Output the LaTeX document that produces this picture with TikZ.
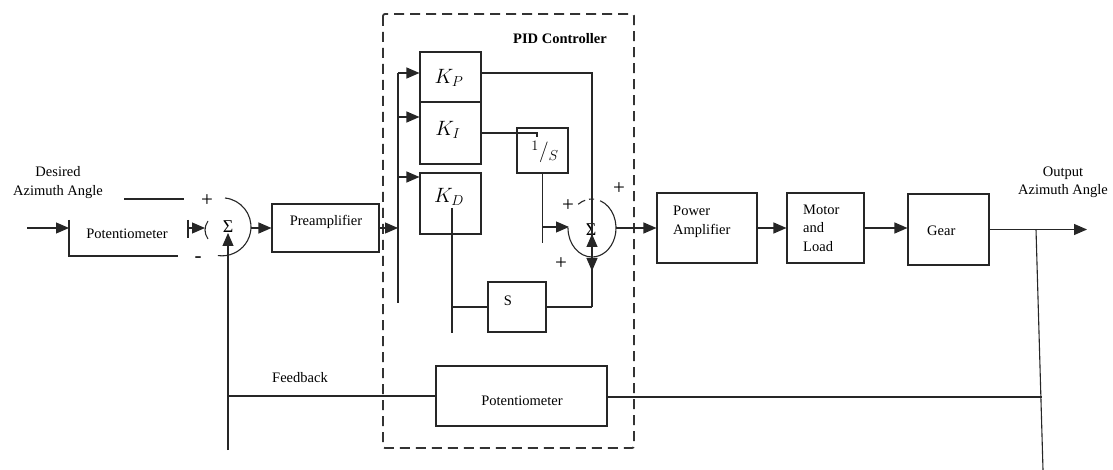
\documentclass[tikz,border=0pt]{standalone}
\usepackage{fontspec}
\setmainfont{Liberation Serif}
\usetikzlibrary{arrows.meta}
\begin{document}
\begin{tikzpicture}[x=1pt,y=-1pt,
  ln/.style={line width=1.1pt, draw=black!85},
  arr/.style={ln, -{Triangle[length=13pt,width=11pt]}},
  blk/.style={draw=black!85, line width=1.1pt, inner sep=0pt},
  txt/.style={font=\fontsize{14.5}{18.5}\selectfont, inner sep=0pt},
  kk/.style={font=\fontsize{20}{22}\selectfont, inner sep=0pt},
  pm/.style={font=\fontsize{21}{22}\selectfont, inner sep=0pt},
  sg/.style={font=\fontsize{18}{20}\selectfont, inner sep=0pt},
  pidbox/.style={draw=black!80, line width=1.8pt, dash pattern=on 10pt off 6pt, rounded corners=2pt}]
\useasboundingbox (0,0) rectangle (1113,470);
\fill[white] (0,0) rectangle (1113,470);

% PID dashed frame
\draw[pidbox] (383,14) rectangle (634,448);
\node[txt, font=\fontsize{14.5}{17}\selectfont\bfseries] (pidlbl) at (560,39) {PID Controller};

% boxes
\node[blk, minimum width=107pt, minimum height=48pt] (pre) at (325.5,228) {};
\node[blk, minimum width=61pt, minimum height=50pt] (kp) at (450.5,77) {};
\node[blk, minimum width=61pt, minimum height=62pt] (ki) at (450.5,133) {};
\node[blk, minimum width=61pt, minimum height=61pt] (kd) at (450.5,203.5) {};
\node[blk, minimum width=51pt, minimum height=45pt] (integ) at (542.5,150.5) {};
\node[blk, minimum width=58pt, minimum height=50pt] (sbx) at (517,307) {};
\node[blk, minimum width=100pt, minimum height=70pt] (pamp) at (707,228) {};
\node[blk, minimum width=77pt, minimum height=70pt] (motor) at (825.5,228) {};
\node[blk, minimum width=81pt, minimum height=71pt] (gear) at (948.5,229.5) {};
\node[blk, minimum width=171pt, minimum height=60pt] (pot2) at (521.5,396) {};

% texts
\node[txt, align=center] (desired) at (58,182.5) {Desired\\Azimuth Angle};
\node[txt, align=center] (output) at (1063,182.5) {Output\\Azimuth Angle};
\node[txt] (pot1) at (127,234) {Potentiometer};
\node[txt] (pretxt) at (326,222) {Preamplifier};
\node[txt, anchor=west, align=left] (pamptxt) at (673,222) {Power\\Amplifier};
\node[txt, anchor=west, align=left] (motortxt) at (803,228) {Motor\\and\\Load};
\node[txt, anchor=west] (geartxt) at (927,231) {Gear};
\node[txt] (pot2txt) at (522,401) {Potentiometer};
\node[txt] (fbtxt) at (300,378) {Feedback};
\node[kk] (kptxt) at (449,78) {$K_P$};
\node[kk] (kitxt) at (448,130) {$K_I$};
\node[kk] (kdtxt) at (449,197) {$K_D$};
\node[kk] (integtxt) at (545,152) {$^1/_S$};
\node[txt] (stxt) at (508,301) {S};
\node[sg] (sig1) at (228,227) {Σ};
\node[sg] (sig2) at (591,230) {Σ};
\node[pm] (p1) at (207,201) {+};
\node[pm] (m1) at (198,260) {-};
\node[pm] (p2) at (568,206) {+};
\node[pm] (p3) at (619,189) {+};
\node[pm] (p4) at (561,264) {+};

% coordinates
\coordinate (in1) at (27,228);
\coordinate (pot1l) at (69,228);
\coordinate (bar1) at (188,228);
\coordinate (s1in) at (205,228);
\coordinate (s1out) at (251,228);
\coordinate (fbtop) at (228,233);
\coordinate (fbbot) at (228,450);
\coordinate (fbmid) at (228,396);
\coordinate (br) at (398,228);
\coordinate (brP) at (398,73);
\coordinate (brI) at (398,117);
\coordinate (brD) at (398,177);
\coordinate (brB) at (398,303);
\coordinate (sb) at (592,307);
\coordinate (s2c) at (592,228);
\coordinate (s2out) at (616,228);
\coordinate (iout) at (542.5,243);
\coordinate (iarr) at (542.5,227);
\coordinate (s2l) at (569,227);
\coordinate (kdtop) at (452,208);
\coordinate (kdbot) at (452,333);
\coordinate (kdS) at (452,307);
\coordinate (out) at (1087,229.5);
\coordinate (tapT) at (1036,229.5);
\coordinate (tapB) at (1043,470);
\coordinate (tapM) at (1042,397);
\coordinate (kiend) at (537,137);

% left potentiometer (open box) and first summer
\draw[arr] (in1) -- (pot1l);
\draw[ln] (124,199) -- (184,199);
\draw[ln] (69,220) |- (178,256);
\draw[ln] (188,220) -- (188,238);
\draw[arr] (bar1) -- (s1in);
\draw[ln] (225,198) arc[start angle=84, end angle=-98, radius=29pt];
\draw[ln] (208,221) .. controls (204,227) and (204,233) .. (208,239);
\draw[arr] (fbbot) -- (fbtop);
\draw[ln] (fbmid) -- (pot2.west);
\draw[arr] (s1out) -- (pre.west);

% PID internals
\draw[arr] (pre.east) -- (br);
\draw[ln] (brP) -- (brB);
\draw[arr] (brP) -- (kp.west |- brP);
\draw[arr] (brI) -- (ki.west |- brI);
\draw[arr] (brD) -- (kd.west |- brD);
\draw[ln] (kp.east |- brP) -| (sb);
\draw[ln] (ki.east) -| (kiend);
\draw[ln] (integ.south) -- (iout);
\draw[arr] (iarr) -- (s2l);
\draw[ln] (kdtop) -- (kdbot);
\draw[ln] (kdS) -- (sbx.west);
\draw[ln] (sbx.east) -- (sb);
\draw[arr] (592,258) -- (592,234);
\draw[arr] (592,252) -- (592,271);
% second summer
\draw[ln] ([shift={(70:24pt and 29pt)}]s2c) arc[start angle=70, end angle=-90, x radius=24pt, y radius=29pt];
\draw[ln] ([shift={(180:24pt and 29pt)}]s2c) arc[start angle=180, end angle=270, x radius=24pt, y radius=29pt];
\draw[ln, dash pattern=on 8pt off 4pt] ([shift={(125:24pt and 29pt)}]s2c) arc[start angle=125, end angle=85, x radius=24pt, y radius=29pt];

% forward path
\draw[arr] (s2out) -- (pamp.west);
\draw[arr] (pamp.east) -- (motor.west);
\draw[arr] (motor.east) -- (motor.east -| gear.west);
\draw[arr] (gear.east) -- (out);
\draw[ln] (tapT) -- (tapB);
\draw[ln] (pot2.east |- tapM) -- (tapM);
\end{tikzpicture}
\end{document}
